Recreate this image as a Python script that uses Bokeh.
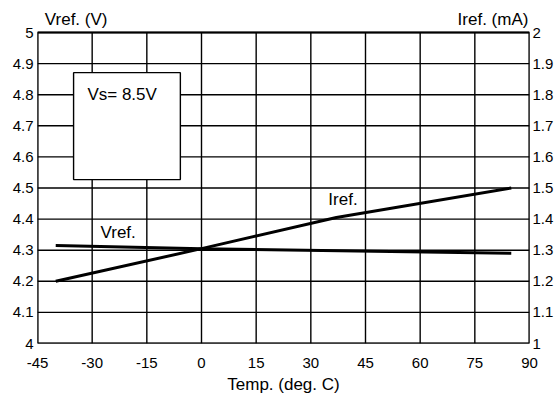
from bokeh.plotting import figure
from bokeh.models import Range1d, LinearAxis, FixedTicker
from bokeh.core.properties import value
from bokeh.embed import file_html
from bokeh.resources import INLINE

# ---- data ----
vref_temp = [-40, 0, 85]
vref_values = [4.315, 4.305, 4.29]

iref_temp = [-40, 0, 37, 85]
iref_values = [1.2, 1.305, 1.405, 1.5]

x_ticks = [-45, -30, -15, 0, 15, 30, 45, 60, 75, 90]
x_tick_labels = ["-45", "-30", "-15", "0", "15", "30", "45", "60", "75", "90"]
v_ticks = [4.0, 4.1, 4.2, 4.3, 4.4, 4.5, 4.6, 4.7, 4.8, 4.9, 5.0]
v_tick_labels = ["4", "4.1", "4.2", "4.3", "4.4", "4.5", "4.6", "4.7", "4.8", "4.9", "5"]
i_ticks = [1.0, 1.1, 1.2, 1.3, 1.4, 1.5, 1.6, 1.7, 1.8, 1.9, 2.0]
i_tick_labels = ["1", "1.1", "1.2", "1.3", "1.4", "1.5", "1.6", "1.7", "1.8", "1.9", "2"]

FONT = "Liberation Sans"
XMIN, XMAX = x_ticks[0], x_ticks[-1]
VMIN, VMAX = v_ticks[0], v_ticks[-1]
HEAD = 0.0772  # empty space above the grid (room for the axis titles)

p = figure(frame_width=492, frame_height=335, output_backend="svg", toolbar_location=None,
           x_range=Range1d(XMIN, XMAX), y_range=Range1d(VMIN, VMAX + HEAD),
           min_border_left=37, min_border_right=27, min_border_top=8, min_border_bottom=57)
p.extra_y_ranges = {"i": Range1d(i_ticks[0], i_ticks[-1] + HEAD)}

p.background_fill_color = "white"
p.border_fill_color = "white"
p.outline_line_color = None
p.xgrid.grid_line_color = None
p.ygrid.grid_line_color = None

# grid drawn from the tick arrays, limited to the chart area
p.segment(x0=x_ticks, x1=x_ticks, y0=[VMIN] * len(x_ticks), y1=[VMAX] * len(x_ticks),
          line_color="black", line_width=1.4)
p.segment(x0=[XMIN] * len(v_ticks), x1=[XMAX] * len(v_ticks), y0=v_ticks, y1=v_ticks,
          line_color="black", line_width=1.4)
# frame
p.quad(left=[XMIN], right=[XMAX], bottom=[VMIN], top=[VMAX], fill_color=None,
       line_color="black", line_width=2)

# axes
xa = p.xaxis[0]
xa.ticker = FixedTicker(ticks=x_ticks)
xa.major_label_overrides = dict(zip(x_ticks, x_tick_labels))
xa.axis_label = "Temp. (deg. C)"
xa.axis_label_text_font = FONT
xa.axis_label_text_font_size = "17px"
xa.axis_label_text_font_style = "normal"
xa.axis_label_standoff = 4
xa.major_label_standoff = 14

ya = p.yaxis[0]
ya.ticker = FixedTicker(ticks=v_ticks)
ya.major_label_overrides = dict(zip(v_ticks, v_tick_labels))
ya.major_label_standoff = 4

ra = LinearAxis(y_range_name="i", ticker=FixedTicker(ticks=i_ticks))
ra.major_label_overrides = dict(zip(i_ticks, i_tick_labels))
ra.major_label_standoff = 3
p.add_layout(ra, "right")

for ax in (xa, ya, ra):
    ax.axis_line_color = None
    ax.major_tick_line_color = None
    ax.minor_tick_line_color = None
    ax.major_tick_out = 0
    ax.major_tick_in = 0
    ax.minor_tick_out = 0
    ax.minor_tick_in = 0
    ax.major_label_text_font = FONT
    ax.major_label_text_font_size = "15px"
    ax.major_label_text_color = "black"
    ax.axis_label_text_color = "black"

# note box (white, covering the grid)
p.quad(left=[-35.1], right=[-5.8], bottom=[4.527], top=[4.871],
       fill_color="white", fill_alpha=1.0, line_color="black", line_width=1.4)

# data lines
p.line(vref_temp, vref_values, line_color="black", line_width=3)
p.line(iref_temp, iref_values, line_color="black", line_width=3, y_range_name="i")

def lab(x, y, text, align="left", size="17px"):
    p.text(x=[x], y=[y], text=[text], text_align=align, text_baseline="middle",
           text_font=value(FONT), text_font_size=value(size), text_color="black")

lab(-31.3, 4.80, "Vs= 8.5V")
lab(-27.7, 4.357, "Vref.")
lab(34.8, 4.463, "Iref.")
lab(-25.8, 5.042, "Vref. (V)", align="right")
lab(89.7, 5.042, "Iref. (mA)", align="right")

open("out.html", "w").write(file_html(p, INLINE))
